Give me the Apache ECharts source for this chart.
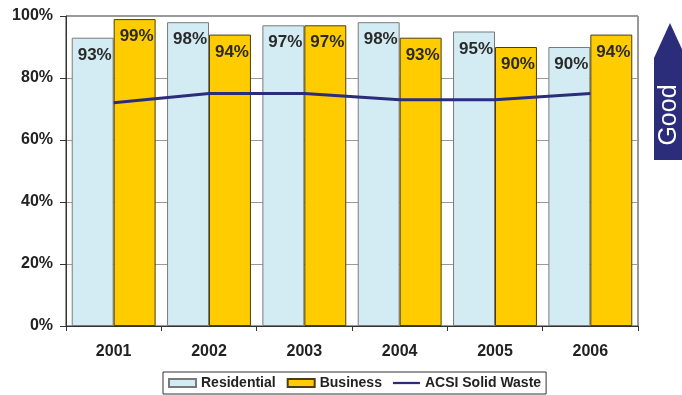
<!DOCTYPE html>
<html><head><meta charset="utf-8">
<script src="https://cdn.jsdelivr.net/npm/echarts@6/dist/echarts.min.js"></script>
<style>html,body{margin:0;padding:0;background:#fff}#c{width:682px;height:395px}</style>
</head><body><div id="c"></div>
<script>
const years = ['2001','2002','2003','2004','2005','2006'];
const residential = [93, 98, 97, 98, 95, 90];
const business = [99, 94, 97, 93, 90, 94];
const acsi = [72, 75, 75, 73, 73, 75];
const yTicks = [0, 20, 40, 60, 80, 100];

const font = '"Liberation Sans", Arial, sans-serif';
const chart = echarts.init(document.getElementById('c'), null, {renderer:'canvas'});
const lbl = {show:true, position:'insideTop', distance:9, offset:[2,0], formatter:'{c}%', fontFamily:font, fontWeight:'bold', fontSize:17, color:'#2a2a2a'};
chart.setOption({
  animation:false,
  textStyle:{fontFamily:font},
  grid:{left:66, right:44, top:16, bottom:69, show:true, borderColor:'#333', borderWidth:1, backgroundColor:'transparent'},
  legend:{
    left:163, top:372, padding:[4,5,4,5], borderColor:'#333', borderWidth:1, itemWidth:27, itemHeight:8, itemGap:11,
    textStyle:{fontFamily:font, fontWeight:'bold', fontSize:14, color:'#222'},
    data:[{name:'Residential', icon:'rect'},{name:'Business', icon:'rect'},{name:'ACSI Solid Waste', icon:'path://M0,0 L30,0 L30,2.5 L0,2.5 Z'}]
  },
  xAxis:{type:'category', data:years,
    axisLine:{lineStyle:{color:'#333'}}, axisTick:{show:true, length:5, lineStyle:{color:'#333'}},
    axisLabel:{fontFamily:font, fontWeight:'bold', fontSize:16, color:'#222', margin:18}},
  yAxis:{type:'value', min:yTicks[0], max:yTicks[yTicks.length-1], interval:20,
    axisLine:{show:true, lineStyle:{color:'#333'}}, axisTick:{show:true, length:6, lineStyle:{color:'#333'}},
    splitLine:{lineStyle:{color:'#9a9a9a'}},
    axisLabel:{formatter:'{value}%', fontFamily:font, fontWeight:'bold', fontSize:16, color:'#222', margin:13}},
  series:[
    {name:'Residential', type:'bar', data:residential, barGap:'0%', barCategoryGap:'12%',
     itemStyle:{color:'#D3ECF3', borderColor:'#7a7a7a', borderWidth:1}, label:lbl},
    {name:'Business', type:'bar', data:business,
     itemStyle:{color:'#FFCC00', borderColor:'#4a3f10', borderWidth:1}, label:lbl},
    {name:'ACSI Solid Waste', type:'line', data:acsi, symbol:'none', z:5,
     itemStyle:{color:'#2B2C7A'}, lineStyle:{color:'#2B2C7A', width:3}}
  ],
  graphic:[
    {type:'polygon', shape:{points:[[670,23],[686,58],[686,160],[654,160],[654,58]]}, style:{fill:'#2B2C7A'}},
    {type:'text', x:669, y:115, rotation:Math.PI/2, style:{text:'Good', fill:'#fff', font:'25px "Liberation Sans", Arial, sans-serif', align:'center', verticalAlign:'middle'}}
  ]
});
</script></body></html>
